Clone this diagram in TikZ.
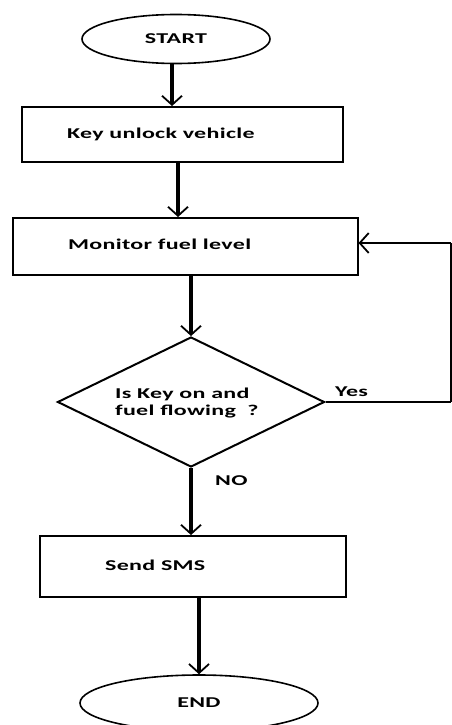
\documentclass[tikz,border=0pt]{standalone}
\usepackage{fontspec}
\setmainfont{Carlito}[BoldFeatures={FakeStretch=1.6,LetterSpace=2}]
\usepackage{tikz}
\usetikzlibrary{arrows.meta}
\usetikzlibrary{shapes.geometric}

\begin{document}
\begin{tikzpicture}[
            x=1pt, y=-1pt,
            font=\bfseries\fontsize{15}{17}\selectfont,
            term-node/.style={ellipse,draw,line width=1.6pt,inner sep=0pt},
            proc-node/.style={rectangle,draw,line width=2pt,inner sep=0pt},
            dec-node/.style={diamond,draw,line width=2pt,inner sep=0pt},
            text-node/.style={anchor=west,inner sep=0pt},
            flow/.style={line width=3.5pt,-{Straight Barb[length=9pt,width=20pt,line width=1.8pt]}},
            back/.style={line width=2pt,-{Straight Barb[length=9pt,width=20pt,line width=1.8pt]}},
        ]
            \useasboundingbox (0, 0) rectangle (452, 725);

            \node[term-node, minimum width=188pt, minimum height=49pt] (start) at (176, 39) {START};

            \node[proc-node, minimum width=321pt, minimum height=55pt] (unlock) at (182.5, 134.5) {};
            \node[text-node] (unlock-t) at (67, 134) {Key unlock vehicle};

            \node[proc-node, minimum width=345pt, minimum height=57pt] (monitor) at (185, 246.5) {};
            \node[text-node] (monitor-t) at (68, 244) {Monitor fuel level};

            \node[dec-node, minimum width=267pt, minimum height=130pt] (check) at (191, 402) {};
            \node[text-node, align=left] (check-t) at (115, 403) {Is Key on and\\fuel flowing\ \ ?};

            \node[proc-node, minimum width=306pt, minimum height=61pt] (sms) at (193, 566.5) {};
            \node[text-node] (sms-t) at (105, 565) {Send SMS};

            \node[term-node, minimum width=238pt, minimum height=56pt] (end) at (199, 703) {END};

            \node[text-node] (yes) at (335, 392) {Yes};
            \node[text-node] (no) at (215, 481) {NO};

            \coordinate (yes-end) at (451, 402);
            \coordinate (loop-top) at (451, 243);

            \draw[flow] ([xshift=-4pt]start.south) -- ([xshift=-4pt]start.south |- unlock.north);
            \draw[flow] ([xshift=-4.5pt]unlock.south) -- ([xshift=-4.5pt]unlock.south |- monitor.north);
            \draw[flow] (monitor.south -| check.north) -- (check.north);
            \draw[flow] (check.south) -- (sms.north -| check.south);
            \draw[flow] ([xshift=6pt]sms.south) -- (end.north);
            \draw[line width=2pt] (check.east) -- (yes-end);
            \draw[line width=1.5pt] (yes-end) -- (loop-top);
            \draw[back] (loop-top) -- (monitor.east |- loop-top);
        \end{tikzpicture}
\end{document}
